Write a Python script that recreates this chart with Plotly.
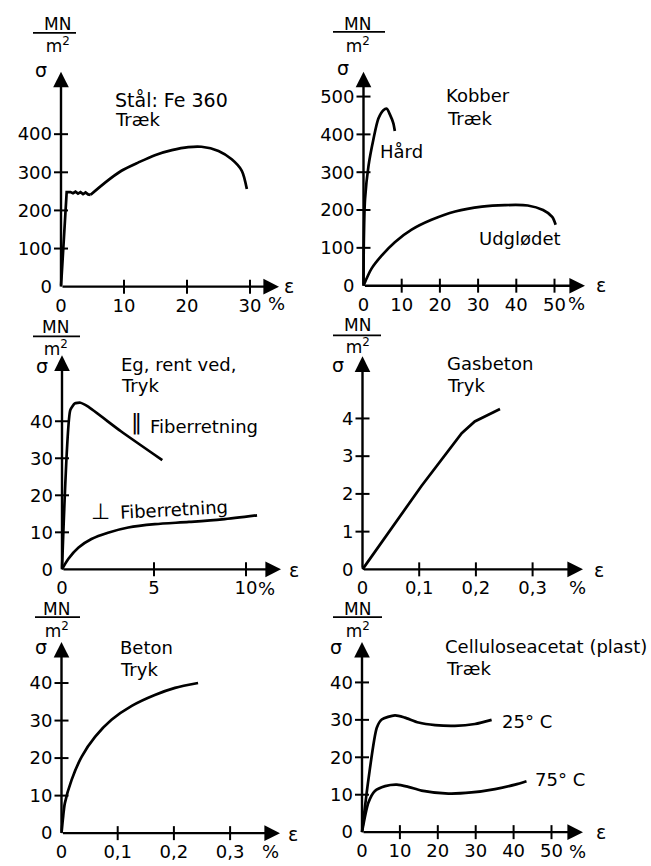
import plotly.graph_objects as go

W, H = 651, 866

# ---------------- data ----------------
# Panel 1: Stål Fe 360, træk  (strain %, stress MN/m2)
steel_yield_strain = [0, 0.9, 1.5, 1.9, 2.3, 2.7, 3.1, 3.5, 3.9, 4.3, 4.7]
steel_yield_stress = [0, 248, 248, 245, 249, 244, 248, 243, 247, 242, 241]
steel_hard_strain = [4.7, 7.0, 9.6, 12.3, 14.9, 17.6, 20.2, 22.3, 25.0, 27.1, 28.7, 29.5]
steel_hard_stress = [241, 273, 304, 326, 345, 358, 366, 367, 356, 334, 304, 256]

# Panel 2: Kobber, træk
cu_hard_strain = [0, 0.1, 0.4, 1.3, 2.6, 3.9, 5.2, 6.1, 6.9, 7.8, 8.2]
cu_hard_stress = [0, 124, 229, 316, 387, 442, 464, 468, 453, 430, 409]
cu_soft_strain = [0, 2.1, 4.8, 8.2, 12.6, 17.8, 24, 31, 37, 43, 47, 49.4, 50.3]
cu_soft_stress = [0, 45, 80, 115, 148, 174, 196, 209, 213, 212, 200, 182, 161]

# Panel 3: Eg, rent ved, tryk
wood_par_strain = [0, 0.45, 0.7, 1.0, 1.4, 3.2, 5.45]
wood_par_stress = [0, 43, 44.8, 45, 44, 37.3, 29.5]
wood_perp_strain = [0, 0.34, 0.9, 1.6, 2.5, 3.6, 5.05, 6.9, 8.7, 10.6]
wood_perp_stress = [0, 2.8, 5.9, 8.2, 9.9, 11.3, 12.2, 12.8, 13.5, 14.6]

# Panel 4: Gasbeton, tryk
gas_strain = [0, 0.104, 0.175, 0.198, 0.222, 0.2425]
gas_stress = [0, 2.21, 3.61, 3.92, 4.10, 4.25]

# Panel 5: Beton, tryk
beton_strain = [0, 0.003, 0.006, 0.018, 0.036, 0.06, 0.089, 0.125, 0.166, 0.202, 0.243]
beton_stress = [0, 4.5, 8.0, 14.2, 20.4, 25.7, 30.2, 33.9, 36.8, 38.7, 40.0]

# Panel 6: Celluloseacetat (plast), træk
ca25_strain = [0, 1.7, 3.9, 5.2, 8.7, 11.3, 14.9, 19.3, 24.5, 29.8, 34.2]
ca25_stress = [0, 14.1, 27.9, 30.1, 31.2, 30.6, 29.3, 28.6, 28.4, 28.9, 30.0]
ca75_strain = [0, 1.7, 3.4, 6.1, 9.2, 12.2, 15.7, 22.8, 28.9, 35.1, 40.4, 43.4]
ca75_stress = [0, 7.9, 11.0, 12.3, 12.7, 12.1, 11.1, 10.3, 10.6, 11.5, 12.7, 13.6]

# tick values / labels
p1_xticks = [0, 10, 20, 30];            p1_xlabels = ["0", "10", "20", "30"]
p1_yticks = [0, 100, 200, 300, 400];    p1_ylabels = ["0", "100", "200", "300", "400"]
p2_xticks = [0, 10, 20, 30, 40, 50];    p2_xlabels = ["0", "10", "20", "30", "40", "50"]
p2_yticks = [0, 100, 200, 300, 400, 500]; p2_ylabels = ["0", "100", "200", "300", "400", "500"]
p3_xticks = [0, 5, 10];                 p3_xlabels = ["0", "5", "10"]
p3_yticks = [0, 10, 20, 30, 40];        p3_ylabels = ["0", "10", "20", "30", "40"]
p4_xticks = [0, 0.1, 0.2, 0.3];         p4_xlabels = ["0", "0,1", "0,2", "0,3"]
p4_yticks = [0, 1, 2, 3, 4];            p4_ylabels = ["0", "1", "2", "3", "4"]
p5_xticks = [0, 0.1, 0.2, 0.3];         p5_xlabels = ["0", "0,1", "0,2", "0,3"]
p5_yticks = [0, 10, 20, 30, 40];        p5_ylabels = ["0", "10", "20", "30", "40"]
p6_xticks = [0, 10, 20, 30, 40, 50];    p6_xlabels = ["0", "10", "20", "30", "40", "50"]
p6_yticks = [0, 10, 20, 30, 40];        p6_ylabels = ["0", "10", "20", "30", "40"]

# ---------------- layout geometry (pixels) ----------------
panels = [
    dict(ox=61, oy=288, sx=6.3, sy=0.383, xtip=279, ytip=72,
         xt=p1_xticks, xl=p1_xlabels, yt=p1_yticks, yl=p1_ylabels),
    dict(ox=363.5, oy=287, sx=3.82, sy=0.38, xtip=585, ytip=72,
         xt=p2_xticks, xl=p2_xlabels, yt=p2_yticks, yl=p2_ylabels),
    dict(ox=62, oy=572, sx=18.4, sy=3.72, xtip=281, ytip=357,
         xt=p3_xticks, xl=p3_xlabels, yt=p3_yticks, yl=p3_ylabels),
    dict(ox=362.5, oy=572, sx=567, sy=37.9, xtip=583, ytip=358,
         xt=p4_xticks, xl=p4_xlabels, yt=p4_yticks, yl=p4_ylabels),
    dict(ox=61.5, oy=837, sx=562, sy=3.77, xtip=280, ytip=645,
         xt=p5_xticks, xl=p5_xlabels, yt=p5_yticks, yl=p5_ylabels),
    dict(ox=362, oy=836, sx=3.79, sy=3.76, xtip=583, ytip=645,
         xt=p6_xticks, xl=p6_xlabels, yt=p6_yticks, yl=p6_ylabels),
]

FONT = "DejaVu Sans"
FS = 18
LW = 2.7


def pxx(x):
    return x / W


def pxy(y):
    return 1 - y / H


fig = go.Figure()
layout = {}
annotations = []
shapes = []

PADL, PADB, PADR, PADT = 8, 6, 6, 6

for i, p in enumerate(panels, start=1):
    xa = "xaxis" if i == 1 else f"xaxis{i}"
    ya = "yaxis" if i == 1 else f"yaxis{i}"
    xr = "x" if i == 1 else f"x{i}"
    yr = "y" if i == 1 else f"y{i}"
    left_px = p["ox"] - PADL
    right_px = p["xtip"] + PADR
    top_px = p["ytip"] - PADT
    bot_px = p["oy"] + PADB
    layout[xa] = dict(
        domain=[pxx(left_px), pxx(right_px)],
        range=[(left_px - p["ox"]) / p["sx"], (right_px - p["ox"]) / p["sx"]],
        anchor=yr, showline=False, showgrid=False, zeroline=False,
        ticks="", tickvals=p["xt"], ticktext=p["xl"],
        tickfont=dict(family=FONT, size=FS, color="black"), fixedrange=True,
    )
    layout[ya] = dict(
        domain=[pxy(bot_px), pxy(top_px)],
        range=[(p["oy"] - bot_px) / p["sy"], (p["oy"] - top_px) / p["sy"]],
        anchor=xr, showline=False, showgrid=False, zeroline=False,
        ticks="", tickvals=p["yt"], ticktext=p["yl"],
        tickfont=dict(family=FONT, size=FS, color="black"), fixedrange=True,
    )
    xmax = (p["xtip"] - p["ox"]) / p["sx"]
    ymax = (p["oy"] - p["ytip"]) / p["sy"]
    # axis arrows
    for (hx, hy) in [(xmax, 0), (0, ymax)]:
        annotations.append(dict(
            x=hx, y=hy, ax=0, ay=0, xref=xr, yref=yr, axref=xr, ayref=yr,
            showarrow=True, arrowhead=2, arrowsize=1.3, arrowwidth=2.4,
            arrowcolor="black", text="", standoff=0, startstandoff=0))
    # crossing tick marks
    xt_nz = [v for v in p["xt"] if v != 0]
    yt_nz = [v for v in p["yt"] if v != 0]
    fig.add_trace(go.Scatter(
        x=xt_nz, y=[0] * len(xt_nz), xaxis=xr, yaxis=yr, mode="markers",
        marker=dict(symbol="line-ns", size=10, line=dict(width=2, color="black")),
        cliponaxis=False, hoverinfo="skip"))
    fig.add_trace(go.Scatter(
        x=[0] * len(yt_nz), y=yt_nz, xaxis=xr, yaxis=yr, mode="markers",
        marker=dict(symbol="line-ew", size=10, line=dict(width=2, color="black")),
        cliponaxis=False, hoverinfo="skip"))


def curve(x, y, i, shape="spline", smoothing=0.8):
    xr = "x" if i == 1 else f"x{i}"
    yr = "y" if i == 1 else f"y{i}"
    line = dict(color="black", width=LW, shape=shape)
    if shape == "spline":
        line["smoothing"] = smoothing
    fig.add_trace(go.Scatter(x=x, y=y, xaxis=xr, yaxis=yr, mode="lines",
                             line=line, cliponaxis=False, hoverinfo="skip"))


curve(steel_yield_strain, steel_yield_stress, 1, shape="linear")
curve(steel_hard_strain, steel_hard_stress, 1)
curve(cu_hard_strain, cu_hard_stress, 2)
curve(cu_soft_strain, cu_soft_stress, 2)
curve(wood_par_strain, wood_par_stress, 3, smoothing=0.5)
curve(wood_perp_strain, wood_perp_stress, 3)
curve(gas_strain, gas_stress, 4, shape="linear")
curve(beton_strain, beton_stress, 5)
curve(ca25_strain, ca25_stress, 6, smoothing=0.7)
curve(ca75_strain, ca75_stress, 6, smoothing=0.7)


def txt(s, x, y, size=FS, xanchor="left", angle=0):
    annotations.append(dict(
        text=s, x=pxx(x), y=pxy(y), xref="paper", yref="paper",
        xanchor=xanchor, yanchor="middle", showarrow=False, textangle=angle,
        font=dict(family=FONT, size=size, color="black")))


# unit labels MN / m2 (one two-line text), fraction bar, sigma, epsilon
units = [  # (cx, centre y, bar x0, bar x1, bar y, sigma x, sigma y, eps x, eps y)
    (57, 35, 33, 76, 33, 41, 70, 289, 287),
    (357, 35, 333, 385, 32, 343, 68, 601, 286),
    (55, 340, 33, 80, 338, 42, 368, 294, 573),
    (357, 338, 333, 381, 337, 338, 367, 599, 573),
    (56, 623, 35, 80, 620, 41, 650, 293, 838),
    (357, 623, 333, 382, 620, 336, 650, 601, 836),
]
for (cx, cy, b0, b1, by, sx_, sy_, ex, ey) in units:
    annotations.append(dict(
        text="MN<br>m<sup>2</sup>", x=pxx(cx), y=pxy(cy), xref="paper", yref="paper",
        xanchor="center", yanchor="middle", showarrow=False, align="center",
        font=dict(family=FONT, size=17, color="black")))
    shapes.append(dict(type="line", xref="paper", yref="paper",
                       x0=pxx(b0), x1=pxx(b1), y0=pxy(by), y1=pxy(by),
                       line=dict(color="black", width=1.8)))
    txt("σ", sx_, sy_, size=19, xanchor="center")
    txt("ε", ex, ey, size=19, xanchor="center")

# percent signs after last tick label
for (x, y) in [(266, 305), (566, 305), (256, 591), (567, 590), (260, 855), (567, 855)]:
    txt("%", x, y)

# titles / curve labels
txt("Stål: Fe 360", 113, 100, size=19)
txt("Træk", 113, 120)
txt("Kobber", 444, 96)
txt("Træk", 445, 119)
txt("Hård", 378, 152)
txt("Udglødet", 477, 240)
txt("Eg, rent ved,", 119, 366)
txt("Tryk", 119, 387)
txt("‖", 136, 424, size=22, xanchor="center")
txt("Fiberretning", 148, 428)
txt("⊥", 100, 514, size=22, xanchor="center")
txt("Fiberretning", 117, 512, angle=-3)
txt("Gasbeton", 445, 365)
txt("Tryk", 445, 387)
txt("Beton", 118, 651)
txt("Tryk", 118, 673)
txt("Celluloseacetat (plast)", 443, 650)
txt("Træk", 444, 672)
txt("25° C", 500, 725)
txt("75° C", 533, 783)

fig.update_layout(
    width=W, height=H, margin=dict(l=0, r=0, t=0, b=0, pad=0),
    paper_bgcolor="white", plot_bgcolor="white", showlegend=False,
    font=dict(family=FONT, size=FS, color="black"),
    annotations=annotations, shapes=shapes, **layout)

fig.write_html("out.html")
